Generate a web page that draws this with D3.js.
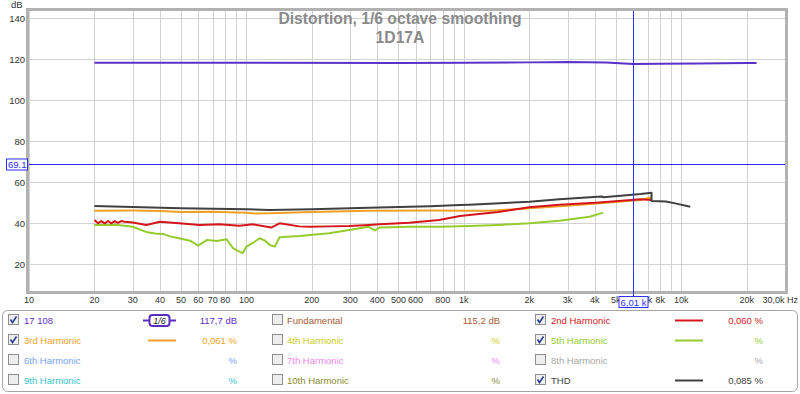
<!doctype html>
<html lang='en'>
<head>
<meta charset='UTF-8'>
<title>Distortion, 1/6 octave smoothing</title>
<style>
  body { margin: 0; background: #fff; }
  svg { display: block; font-family: Arial, 'Liberation Sans', sans-serif; }
</style>
</head>
<body>
<script src='https://d3js.org/d3.v7.min.js'></script>
<script>
  // ---------- data (Hz / dB) ----------
  const measFreq = [20, 100, 500, 1000, 2000, 3000, 4500, 6000, 8000, 12000, 20000, 22200]
  const measDb   = [118.3, 118.3, 118.2, 118.3, 118.5, 118.7, 118.4, 117.7, 117.8, 118, 118.2, 118.2]

  const h2Freq = [20, 20.8, 21.5, 22.3, 23.1, 23.9, 24.8, 25.6, 26.6, 27.5, 30, 34.7, 40, 49, 61, 75, 93, 107, 130, 142, 175, 195, 240, 297, 365, 410, 560, 770, 960, 1060, 1440, 2000, 2750, 4200, 6500, 7300]
  const h2Db   = [41.6, 40, 41.1, 40, 41.1, 40, 41.1, 40.2, 41.1, 40.8, 40.4, 39.2, 40.8, 40, 39.2, 39.5, 38.8, 39.5, 37.9, 40, 38.5, 38.3, 38.5, 38.7, 39.2, 39.5, 40.3, 41.6, 43.6, 44, 45.5, 47.8, 49, 50.2, 51.7, 51.4]

  const h3Freq = [20, 30, 40, 50, 70, 100, 110, 128, 200, 365, 700, 1060, 1310, 2000, 3000, 4200, 6500, 7300]
  const h3Db   = [46.1, 46.2, 46, 45.5, 45.6, 45.2, 44.8, 44.9, 45.5, 46.1, 46.2, 46.1, 46.1, 47.3, 48.5, 49.8, 51.4, 52.7]

  const h5Freq = [20, 25, 30, 35, 38, 42, 45, 49, 55, 60, 66, 73, 81, 87, 96, 100, 107, 115, 122, 128, 135, 142, 175, 240, 297, 365, 390, 410, 560, 770, 1060, 1440, 2000, 2750, 3790, 4370]
  const h5Db   = [39.2, 39.3, 38.3, 35.6, 35, 34.6, 33.5, 32.7, 31.5, 29.1, 31.9, 31.4, 32.2, 27.8, 25.4, 28.6, 30.4, 32.7, 31.5, 29.4, 28.6, 33.2, 33.8, 35.1, 36.7, 38.3, 36.5, 38, 38.3, 38.3, 38.7, 39.2, 40, 41.3, 43.2, 45.2]

  const thdFreq = [20, 30, 50, 100, 128, 200, 365, 700, 960, 1060, 2000, 2750, 4300, 4380, 6500, 7300, 7300, 8500, 9500, 11000]
  const thdDb   = [48.4, 48, 47.3, 46.8, 46.5, 46.8, 47.6, 48.3, 48.9, 49.1, 50.5, 51.7, 53.1, 52.7, 54.3, 54.9, 50.9, 50.6, 49.6, 48.1]

  const markerDb = 69.1
  const cursorHz = 6010

  const yTicks = [20, 40, 60, 80, 100, 120, 140]
  const xTicks = [10, 20, 30, 40, 50, 60, 70, 80, 100, 200, 300, 400, 500, 600, 800, 1000, 2000, 3000, 4000, 5000, 7000, 8000, 10000, 20000]
  const xTickLabels = ['10', '20', '30', '40', '50', '60', '70', '80', '100', '200', '300', '400', '500', '600', '800', '1k', '2k', '3k', '4k', '5k', '7k', '8k', '10k', '20k']

  // legend, row by row
  const legendNames   = ['17 108', 'Fundamental', '2nd Harmonic', '3rd Harmonic', '4th Harmonic', '5th Harmonic',
                         '6th Harmonic', '7th Harmonic', '8th Harmonic', '9th Harmonic', '10th Harmonic', 'THD']
  const legendValues  = ['117,7 dB', '115,2 dB', '0,060 %', '0,061 %', '%', '%', '%', '%', '%', '%', '%', '0,085 %']
  const legendColors  = ['#5a2fc0', '#a85a34', '#d4161c', '#f0a028', '#cccc22', '#94cc30',
                         '#78a4f0', '#f088f0', '#a8a8a8', '#38c4d0', '#8c8c2c', '#404040']
  const legendChecked = [true, false, true, true, false, true, false, false, false, false, false, true]

  // ---------- layout ----------
  const w = 800
  const h = 394
  const plot = { left: 29, right: 785, top: 11, bottom: 291 }

  const x = d3.scaleLog().domain([10, 30000]).range([plot.left, plot.right])
  const y = d3.scaleLinear().domain([20, 140]).range([264.3, 18.3])

  const svg = d3.select('body').append('svg')
    .attr('width', w)
    .attr('height', h)

  svg.append('clipPath').attr('id', 'clip')
    .append('rect')
    .attr('x', plot.left).attr('y', plot.top)
    .attr('width', plot.right - plot.left).attr('height', plot.bottom - plot.top)

  // grid
  const gridHz = []
  for (let dec = 10; dec < 30000; dec *= 10) {
    for (let m = 1; m < 10; m++) if (dec * m <= 30000) gridHz.push(dec * m)
  }
  svg.append('g').selectAll('line')
    .data(gridHz)
    .enter().append('line')
    .attr('x1', d => Math.round(x(d)) + 0.5).attr('x2', d => Math.round(x(d)) + 0.5)
    .attr('y1', plot.top).attr('y2', plot.bottom)
    .attr('stroke', '#d2d2d2')

  svg.append('g').selectAll('line')
    .data(yTicks)
    .enter().append('line')
    .attr('x1', plot.left).attr('x2', plot.right)
    .attr('y1', d => Math.round(y(d)) + 0.5).attr('y2', d => Math.round(y(d)) + 0.5)
    .attr('stroke', '#d2d2d2')

  // title
  svg.append('text')
    .attr('x', 400).attr('y', 24)
    .attr('text-anchor', 'middle')
    .attr('font-size', '15.7px').attr('font-weight', 'bold')
    .attr('fill', '#8a8a8a')
    .text('Distortion, 1/6 octave smoothing')
  svg.append('text')
    .attr('x', 400).attr('y', 43)
    .attr('text-anchor', 'middle')
    .attr('font-size', '15.7px').attr('font-weight', 'bold')
    .attr('fill', '#8a8a8a')
    .text('1D17A')

  // frame
  svg.append('rect')
    .attr('x', plot.left - 1.5).attr('y', plot.top - 1.5)
    .attr('width', plot.right - plot.left + 3).attr('height', plot.bottom - plot.top + 3)
    .attr('fill', 'none')
    .attr('stroke', '#b2b2b2')
    .attr('stroke-width', 3)

  // axis labels
  svg.append('g').selectAll('text')
    .data(yTicks)
    .enter().append('text')
    .attr('x', 25).attr('y', d => y(d) + 3.5)
    .attr('text-anchor', 'end')
    .attr('font-size', '9.5px').attr('fill', '#333')
    .text(d => d)
  svg.append('text')
    .attr('x', 11).attr('y', 8)
    .attr('font-size', '9.5px').attr('fill', '#333')
    .text('dB')

  svg.append('g').selectAll('text')
    .data(xTicks)
    .enter().append('text')
    .attr('x', d => x(d)).attr('y', 303)
    .attr('text-anchor', 'middle')
    .attr('font-size', '9px').attr('fill', '#333')
    .text((d, i) => xTickLabels[i])
  svg.append('text')
    .attr('x', 798).attr('y', 303)
    .attr('text-anchor', 'end')
    .attr('font-size', '9px').attr('fill', '#333')
    .text('30,0k Hz')

  // curves
  const line = d3.line()
    .x(d => x(d[0]))
    .y(d => y(d[1]))
  const curves = [
    { f: h5Freq, v: h5Db, c: legendColors[5] },
    { f: h3Freq, v: h3Db, c: legendColors[3] },
    { f: h2Freq, v: h2Db, c: legendColors[2] },
    { f: thdFreq, v: thdDb, c: legendColors[11] },
    { f: measFreq, v: measDb, c: '#5a32c8' }
  ]
  svg.append('g').attr('clip-path', 'url(#clip)')
    .selectAll('path')
    .data(curves)
    .enter().append('path')
    .attr('d', d => line(d.f.map((f, i) => [f, d.v[i]])))
    .attr('fill', 'none')
    .attr('stroke', d => d.c)
    .attr('stroke-width', 2)
    .attr('stroke-linejoin', 'round')

  // marker line + label
  const my = Math.round(y(markerDb)) + 0.5
  svg.append('line')
    .attr('x1', plot.left).attr('x2', plot.right)
    .attr('y1', my).attr('y2', my)
    .attr('stroke', '#2a2aff')
  svg.append('rect')
    .attr('x', 6.5).attr('y', my - 5.5).attr('width', 21).attr('height', 11)
    .attr('fill', '#fff').attr('stroke', '#2a2aff')
  svg.append('text')
    .attr('x', 8).attr('y', my + 3.5)
    .attr('font-size', '9.5px').attr('fill', '#2a2aff')
    .text(markerDb.toFixed(1))

  // cursor line + label
  const cx = Math.round(x(cursorHz)) + 0.5
  svg.append('line')
    .attr('x1', cx).attr('x2', cx)
    .attr('y1', plot.top).attr('y2', 296)
    .attr('stroke', '#3030ff').attr('stroke-width', 1)
  svg.append('rect')
    .attr('x', cx - 14.5).attr('y', 296.5).attr('width', 29).attr('height', 11)
    .attr('fill', '#fff').attr('stroke', '#3030ff')
  svg.append('text')
    .attr('x', cx).attr('y', 305.5)
    .attr('text-anchor', 'middle')
    .attr('font-size', '9.5px').attr('fill', '#3030ff')
    .text((cursorHz / 1000).toFixed(2).replace('.', ',') + ' k')

  // ---------- legend ----------
  svg.append('rect')
    .attr('x', 2.5).attr('y', 310.5).attr('width', 795).attr('height', 81).attr('rx', 5)
    .attr('fill', '#fff').attr('stroke', '#a4a4a4')

  const colCheckX = [8, 272, 535]
  const colLabelX = [24, 287, 551]
  const colLineX  = [148, 0, 675]
  const colValueX = [237, 500, 763]
  const rowY = [320, 340, 360, 380]
  const col = d => legendNames.indexOf(d) % 3

  const items = svg.append('g').selectAll('g')
    .data(legendNames)
    .enter().append('g')
    .attr('transform', (d, i) => `translate(0,${rowY[Math.floor(i / 3)]})`)

  items.append('rect')
    .attr('x', d => colCheckX[col(d)] + 0.5).attr('y', -5.5)
    .attr('width', 10).attr('height', 10)
    .attr('fill', '#eeeeee').attr('stroke', '#8e8e8e')

  items.filter((d, i) => legendChecked[i])
    .append('path')
    .attr('d', d => {
      const cx0 = colCheckX[col(d)]
      return `M${cx0 + 2.5},${-0.5} L${cx0 + 4.5},${2.5} L${cx0 + 8.5},${-3.5}`
    })
    .attr('fill', 'none').attr('stroke', '#2b3f8c').attr('stroke-width', 1.6)

  items.append('text')
    .attr('x', d => colLabelX[col(d)]).attr('y', 3.5)
    .attr('font-size', '9.5px')
    .attr('fill', (d, i) => legendColors[i])
    .text(d => d)

  items.append('text')
    .attr('x', d => colValueX[col(d)]).attr('y', 3.5)
    .attr('text-anchor', 'end')
    .attr('font-size', '9.5px')
    .attr('fill', (d, i) => legendColors[i])
    .text((d, i) => legendValues[i])

  // line samples for shown harmonics
  items.filter((d, i) => legendChecked[i] && i > 0)
    .append('line')
    .attr('x1', d => colLineX[col(d)])
    .attr('x2', d => colLineX[col(d)] + 28)
    .attr('y1', 0.5).attr('y2', 0.5)
    .attr('stroke', d => legendColors[legendNames.indexOf(d)])
    .attr('stroke-width', 2)

  // smoothing badge for the measurement row
  const badge = svg.append('g').attr('transform', `translate(0,${rowY[0]})`)
  badge.append('line')
    .attr('x1', 143).attr('x2', 176).attr('y1', 0.5).attr('y2', 0.5)
    .attr('stroke', legendColors[0]).attr('stroke-width', 2)
  badge.append('rect')
    .attr('x', 149.5).attr('y', -5).attr('width', 20).attr('height', 11).attr('rx', 3)
    .attr('fill', '#fff').attr('stroke', legendColors[0]).attr('stroke-width', 2)
  badge.append('text')
    .attr('x', 159.5).attr('y', 4)
    .attr('text-anchor', 'middle')
    .attr('font-size', '9px').attr('font-style', 'italic').attr('fill', '#222')
    .text('1/6')
</script>
</body>
</html>
